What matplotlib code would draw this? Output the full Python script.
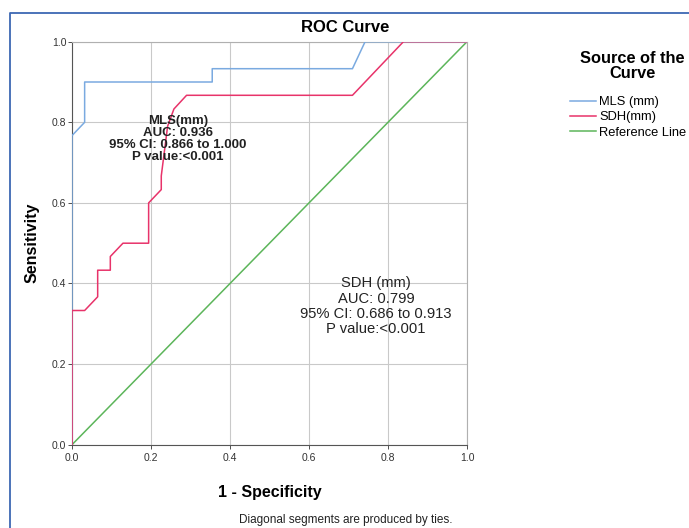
import matplotlib
matplotlib.use("Agg")
import matplotlib.pyplot as plt
from matplotlib.lines import Line2D

plt.rcParams['font.family'] = ['Liberation Sans', 'DejaVu Sans']

# ROC points (1 - specificity, sensitivity)
mls_fpr = [0.0, 0.0, 0.032, 0.032, 0.355, 0.355, 0.710, 0.742, 1.0]
mls_tpr = [0.0, 0.767, 0.800, 0.900, 0.900, 0.933, 0.933, 1.000, 1.0]

sdh_fpr = [0.0, 0.0, 0.032, 0.065, 0.065, 0.097, 0.097, 0.129, 0.194, 0.194,
           0.226, 0.226, 0.242, 0.258, 0.290, 0.710, 0.839, 1.0]
sdh_tpr = [0.0, 0.333, 0.333, 0.367, 0.433, 0.433, 0.467, 0.500, 0.500, 0.600,
           0.633, 0.667, 0.790, 0.833, 0.867, 0.867, 1.000, 1.0]

ref_x = [0.0, 1.0]
ref_y = [0.0, 1.0]

ticks = [0.0, 0.2, 0.4, 0.6, 0.8, 1.0]
tick_labels = ['0.0', '0.2', '0.4', '0.6', '0.8', '1.0']

mls_note = ['MLS(mm)', 'AUC: 0.936', '95% CI: 0.866 to 1.000', 'P value:<0.001']
sdh_note = ['SDH (mm)', 'AUC: 0.799', '95% CI: 0.686 to 0.913', 'P value:<0.001']

blue = '#7aaae0'
red = '#e8336a'
green = '#5cb55a'

fig = plt.figure(figsize=(6.89, 5.28), dpi=100)
ax = fig.add_axes([72/689, 1 - 444.7/528, 395/689, 403/528])

ax.plot(mls_fpr, mls_tpr, color=blue, lw=1.1, label='MLS (mm)', zorder=3)
ax.plot(sdh_fpr, sdh_tpr, color=red, lw=1.1, label='SDH(mm)', zorder=3)
ax.plot(ref_x, ref_y, color=green, lw=1.1, label='Reference Line', zorder=2)

ax.set_xlim(0, 1)
ax.set_ylim(0, 1)
ax.set_xticks(ticks)
ax.set_xticklabels(tick_labels)
ax.set_yticks(ticks)
ax.set_yticklabels(tick_labels)
ax.tick_params(labelsize=7.5, colors='#333333', length=3, width=0.6, pad=1)
ax.tick_params(axis='x', pad=3)
ax.grid(True, color='#c9c9c9', lw=0.8)
ax.set_axisbelow(True)
for s in ax.spines.values():
    s.set_color('#b0b0b0')
    s.set_linewidth(0.8)
ax.spines['left'].set_color('#555555')
ax.spines['bottom'].set_color('#555555')

ax.set_xlabel('1 - Specificity', fontsize=11.5, fontweight='bold', labelpad=16)
ax.set_ylabel('Sensitivity', fontsize=11.5, fontweight='bold', labelpad=9)

ax.text(0.268, 0.818, '\n'.join(mls_note), ha='center', va='top', fontsize=9.5,
        fontweight='bold', color='#222222', linespacing=0.98)
ax.text(0.77, 0.418, '\n'.join(sdh_note), ha='center', va='top', fontsize=10.6,
        color='#222222', linespacing=1.12)

fig.text(345/689, 1 - 28/528, 'ROC Curve', ha='center', va='center',
         fontsize=12, fontweight='bold')
fig.text(346/689, 1 - 520/528, 'Diagonal segments are produced by ties.',
         ha='center', va='center', fontsize=8.5, color='#222222')

# legend title drawn apart so it can sit centred above the entries
fig.text(632/689, 1 - 66/528, 'Source of the\nCurve', ha='center', va='center',
         multialignment='center', fontsize=11.8, fontweight='bold',
         linespacing=0.95)
fig.legend(loc='upper left', bbox_to_anchor=(570/689, 1 - 96/528),
           frameon=False, fontsize=9.3, handlelength=2.0, handletextpad=0.25,
           labelspacing=0.25, borderaxespad=0, borderpad=0)

# blue frame around the figure
fig.add_artist(Line2D([10/689, 10/689, 1.0], [0.0, 1 - 13/528, 1 - 13/528],
                      color='#3d68b3', lw=1.3, transform=fig.transFigure))

fig.savefig('out.png', dpi=100)
